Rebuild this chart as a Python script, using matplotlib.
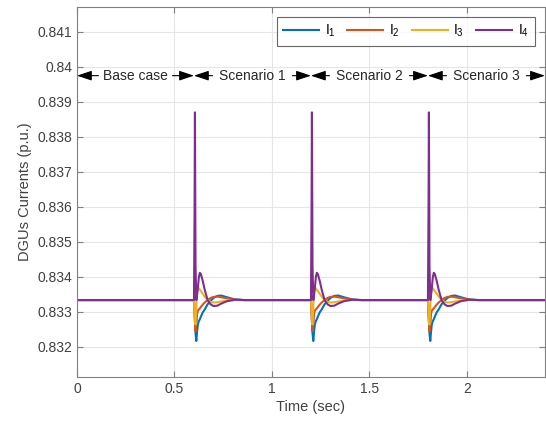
# DGU currents during scenario changes
import numpy as np
import matplotlib.pyplot as plt

plt.rcParams['font.family'] = ['Liberation Sans', 'DejaVu Sans']
plt.rcParams['mathtext.default'] = 'regular'

# steady value and event instants (sec)
i_ss = 0.83333
events = [0.6, 1.2, 1.8]
t_end = 2.4

# one transient: time after the event (sec) and
# deviation from the steady value (x 1e-3 p.u.)
dt = [0.0, 0.003, 0.005, 0.008, 0.012, 0.016, 0.02, 0.025, 0.03, 0.035,
      0.045, 0.055, 0.07, 0.085, 0.1, 0.12, 0.14, 0.17, 0.21, 0.26, 0.3]
dev_1 = [0.0, -0.3, -0.6, -0.95, -1.17, -0.9, -0.7, -0.6, -0.55, -0.48,
         -0.35, -0.27, -0.12, -0.02, 0.06, 0.12, 0.13, 0.08, 0.02, 0.0, 0.0]
dev_2 = [0.0, -0.3, -0.6, -0.89, -0.7, -0.4, -0.3, -0.27, -0.24, -0.2,
         -0.13, -0.07, 0.0, 0.06, 0.09, 0.1, 0.08, 0.05, 0.01, 0.0, 0.0]
dev_3 = [0.0, -0.3, -0.6, -0.7, -0.2, 0.2, 0.35, 0.34, 0.3, 0.26,
         0.18, 0.1, 0.0, -0.05, -0.07, -0.06, -0.04, -0.02, 0.0, 0.0, 0.0]
dev_4 = [0.0, 2.5, 5.37, 1.0, 0.0, 0.15, 0.35, 0.65, 0.78, 0.75,
         0.55, 0.3, 0.0, -0.12, -0.17, -0.16, -0.1, -0.03, 0.01, 0.0, 0.0]

labels = ['$I_1$', '$I_2$', '$I_3$', '$I_4$']
colors = ['#0072BD', '#D95319', '#EDB120', '#7E2F8E']
segments = ['Base case', 'Scenario 1', 'Scenario 2', 'Scenario 3']


def build(dev):
    t = [0.0]
    y = [i_ss]
    for ev in events:
        for d, v in zip(dt, dev):
            t.append(ev + d)
            y.append(i_ss + v * 1e-3)
    t.append(t_end)
    y.append(i_ss)
    return np.array(t), np.array(y)


fig = plt.figure(figsize=(5.46, 4.25), dpi=100)
ax = fig.add_axes([0.141, 0.113, 0.857, 0.871])

for dev, lab, c in zip([dev_1, dev_2, dev_3, dev_4], labels, colors):
    t, y = build(dev)
    ax.plot(t, y, color=c, lw=1.5, label=lab)

ax.set_xlim(0, t_end)
ax.set_ylim(0.83113, 0.84172)
ax.set_xticks([0, 0.5, 1, 1.5, 2])
ax.set_xticklabels(['0', '0.5', '1', '1.5', '2'])
yt = [0.832, 0.833, 0.834, 0.835, 0.836, 0.837, 0.838, 0.839, 0.84, 0.841]
ax.set_yticks(yt)
ax.set_yticklabels(['%g' % v for v in yt])
ax.grid(True, color='#e6e6e6', lw=0.8)
ax.set_axisbelow(True)
for s in ax.spines.values():
    s.set_color('#808080')
ax.tick_params(direction='in', colors='#808080', labelcolor='#404040', labelsize=10,
               length=4, top=True, right=True)
ax.set_xlabel('Time (sec)', fontsize=10.5, color='#404040', labelpad=3)
ax.set_ylabel('DGUs Currents (p.u.)', fontsize=10.5, color='#404040', labelpad=4)

# scenario arrows
bounds = [0.0] + events + [t_end]
y_arr = 0.83975
half_w = [0.19, 0.205, 0.205, 0.205]
for k, name in enumerate(segments):
    a, b = bounds[k], bounds[k + 1]
    mid = (a + b) / 2
    ax.text(mid, y_arr, name, ha='center', va='center', fontsize=10, color='#262626')
    ap = dict(arrowstyle='-|>,head_length=0.9,head_width=0.3', color='k', lw=0.8,
              shrinkA=0, shrinkB=0)
    ax.annotate('', xy=(a, y_arr), xytext=(mid - half_w[k], y_arr), arrowprops=ap)
    ax.annotate('', xy=(b, y_arr), xytext=(mid + half_w[k], y_arr), arrowprops=ap)

leg = ax.legend(loc='upper right', ncol=4, fontsize=10, frameon=True, fancybox=False,
                edgecolor='#404040', handlelength=2.6, columnspacing=0.85,
                handletextpad=0.4, borderaxespad=0.72, borderpad=0.45)
leg.get_frame().set_linewidth(0.8)

fig.savefig('out.png', dpi=100)
